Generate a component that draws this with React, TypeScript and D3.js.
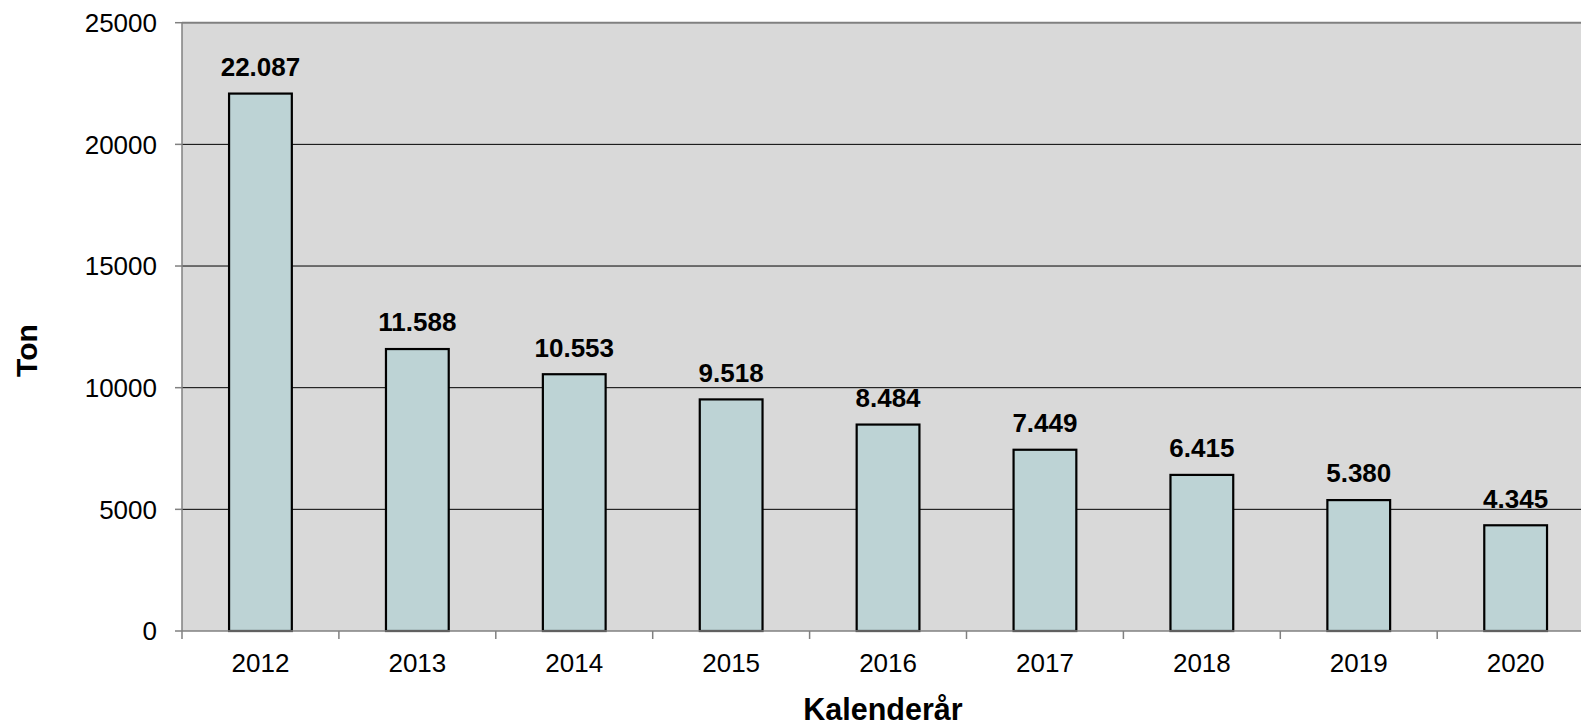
import React from "react";
import * as d3 from "d3";

const years = ["2012", "2013", "2014", "2015", "2016", "2017", "2018", "2019", "2020"];
const values = [22087, 11588, 10553, 9518, 8484, 7449, 6415, 5380, 4345];
const labels = ["22.087", "11.588", "10.553", "9.518", "8.484", "7.449", "6.415", "5.380", "4.345"];
const yTicks = [0, 5000, 10000, 15000, 20000, 25000];

export default function App() {
  const W = 1581, H = 724;
  const left = 182, top = 22.7, bottom = 631;
  const step = 156.9;
  const right = left + step * years.length;
  const x = d3.scaleBand<string>().domain(years).range([left, right]).paddingInner(0.6).paddingOuter(0.3);
  const y = d3.scaleLinear().domain([0, 25000]).range([bottom, top]);
  const font = "Arial, 'Liberation Sans', sans-serif";
  return (
    <div style={{ position: "absolute", left: 0, top: 0 }}>
      <svg width={W} height={H} style={{ display: "block", background: "#fff" }}>
        <rect x={left} y={top} width={right - left} height={bottom - top} fill="#d9d9d9" />
        {yTicks.filter(t => t > 0 && t < 25000).map(t => (
          <line key={t} x1={left} x2={right} y1={y(t)} y2={y(t)} stroke="#000" strokeWidth={1} />
        ))}
        <line x1={left} x2={right} y1={y(25000)} y2={y(25000)} stroke="#808080" strokeWidth={2} />
        {years.map((yr, i) => (
          <rect key={yr} x={x(yr)} y={y(values[i])} width={x.bandwidth()} height={bottom - y(values[i])}
            fill="#bdd3d5" stroke="#000" strokeWidth={2.2} />
        ))}
        <line x1={left} x2={left} y1={top} y2={bottom} stroke="#808080" strokeWidth={1.5} />
        <line x1={left} x2={right} y1={bottom} y2={bottom} stroke="#808080" strokeWidth={1.5} />
        {yTicks.map(t => (
          <g key={t}>
            <line x1={left - 7} x2={left} y1={y(t)} y2={y(t)} stroke="#808080" strokeWidth={1.5} />
            <text x={157} y={y(t)} dy="0.36em" textAnchor="end" fontFamily={font} fontSize={26} fill="#000">{t}</text>
          </g>
        ))}
        {d3.range(years.length + 1).map(i => (
          <line key={i} x1={left + i * step} x2={left + i * step} y1={bottom} y2={bottom + 8} stroke="#808080" strokeWidth={1.5} />
        ))}
        {years.map(yr => (
          <text key={yr} x={x(yr)! + x.bandwidth() / 2} y={672.3} textAnchor="middle" fontFamily={font} fontSize={26} fill="#000">{yr}</text>
        ))}
        {years.map((yr, i) => (
          <text key={yr} x={x(yr)! + x.bandwidth() / 2} y={y(values[i]) - 17.6} textAnchor="middle" fontFamily={font} fontSize={26} fontWeight="bold" fill="#000">{labels[i]}</text>
        ))}
        <text transform={`translate(36.5, 350.5) rotate(-90)`} textAnchor="middle" fontFamily={font} fontSize={30} fontWeight="bold" fill="#000">Ton</text>
        <text x={883} y={720} textAnchor="middle" fontFamily={font} fontSize={30.5} fontWeight="bold" fill="#000">Kalenderår</text>
      </svg>
    </div>
  );
}
